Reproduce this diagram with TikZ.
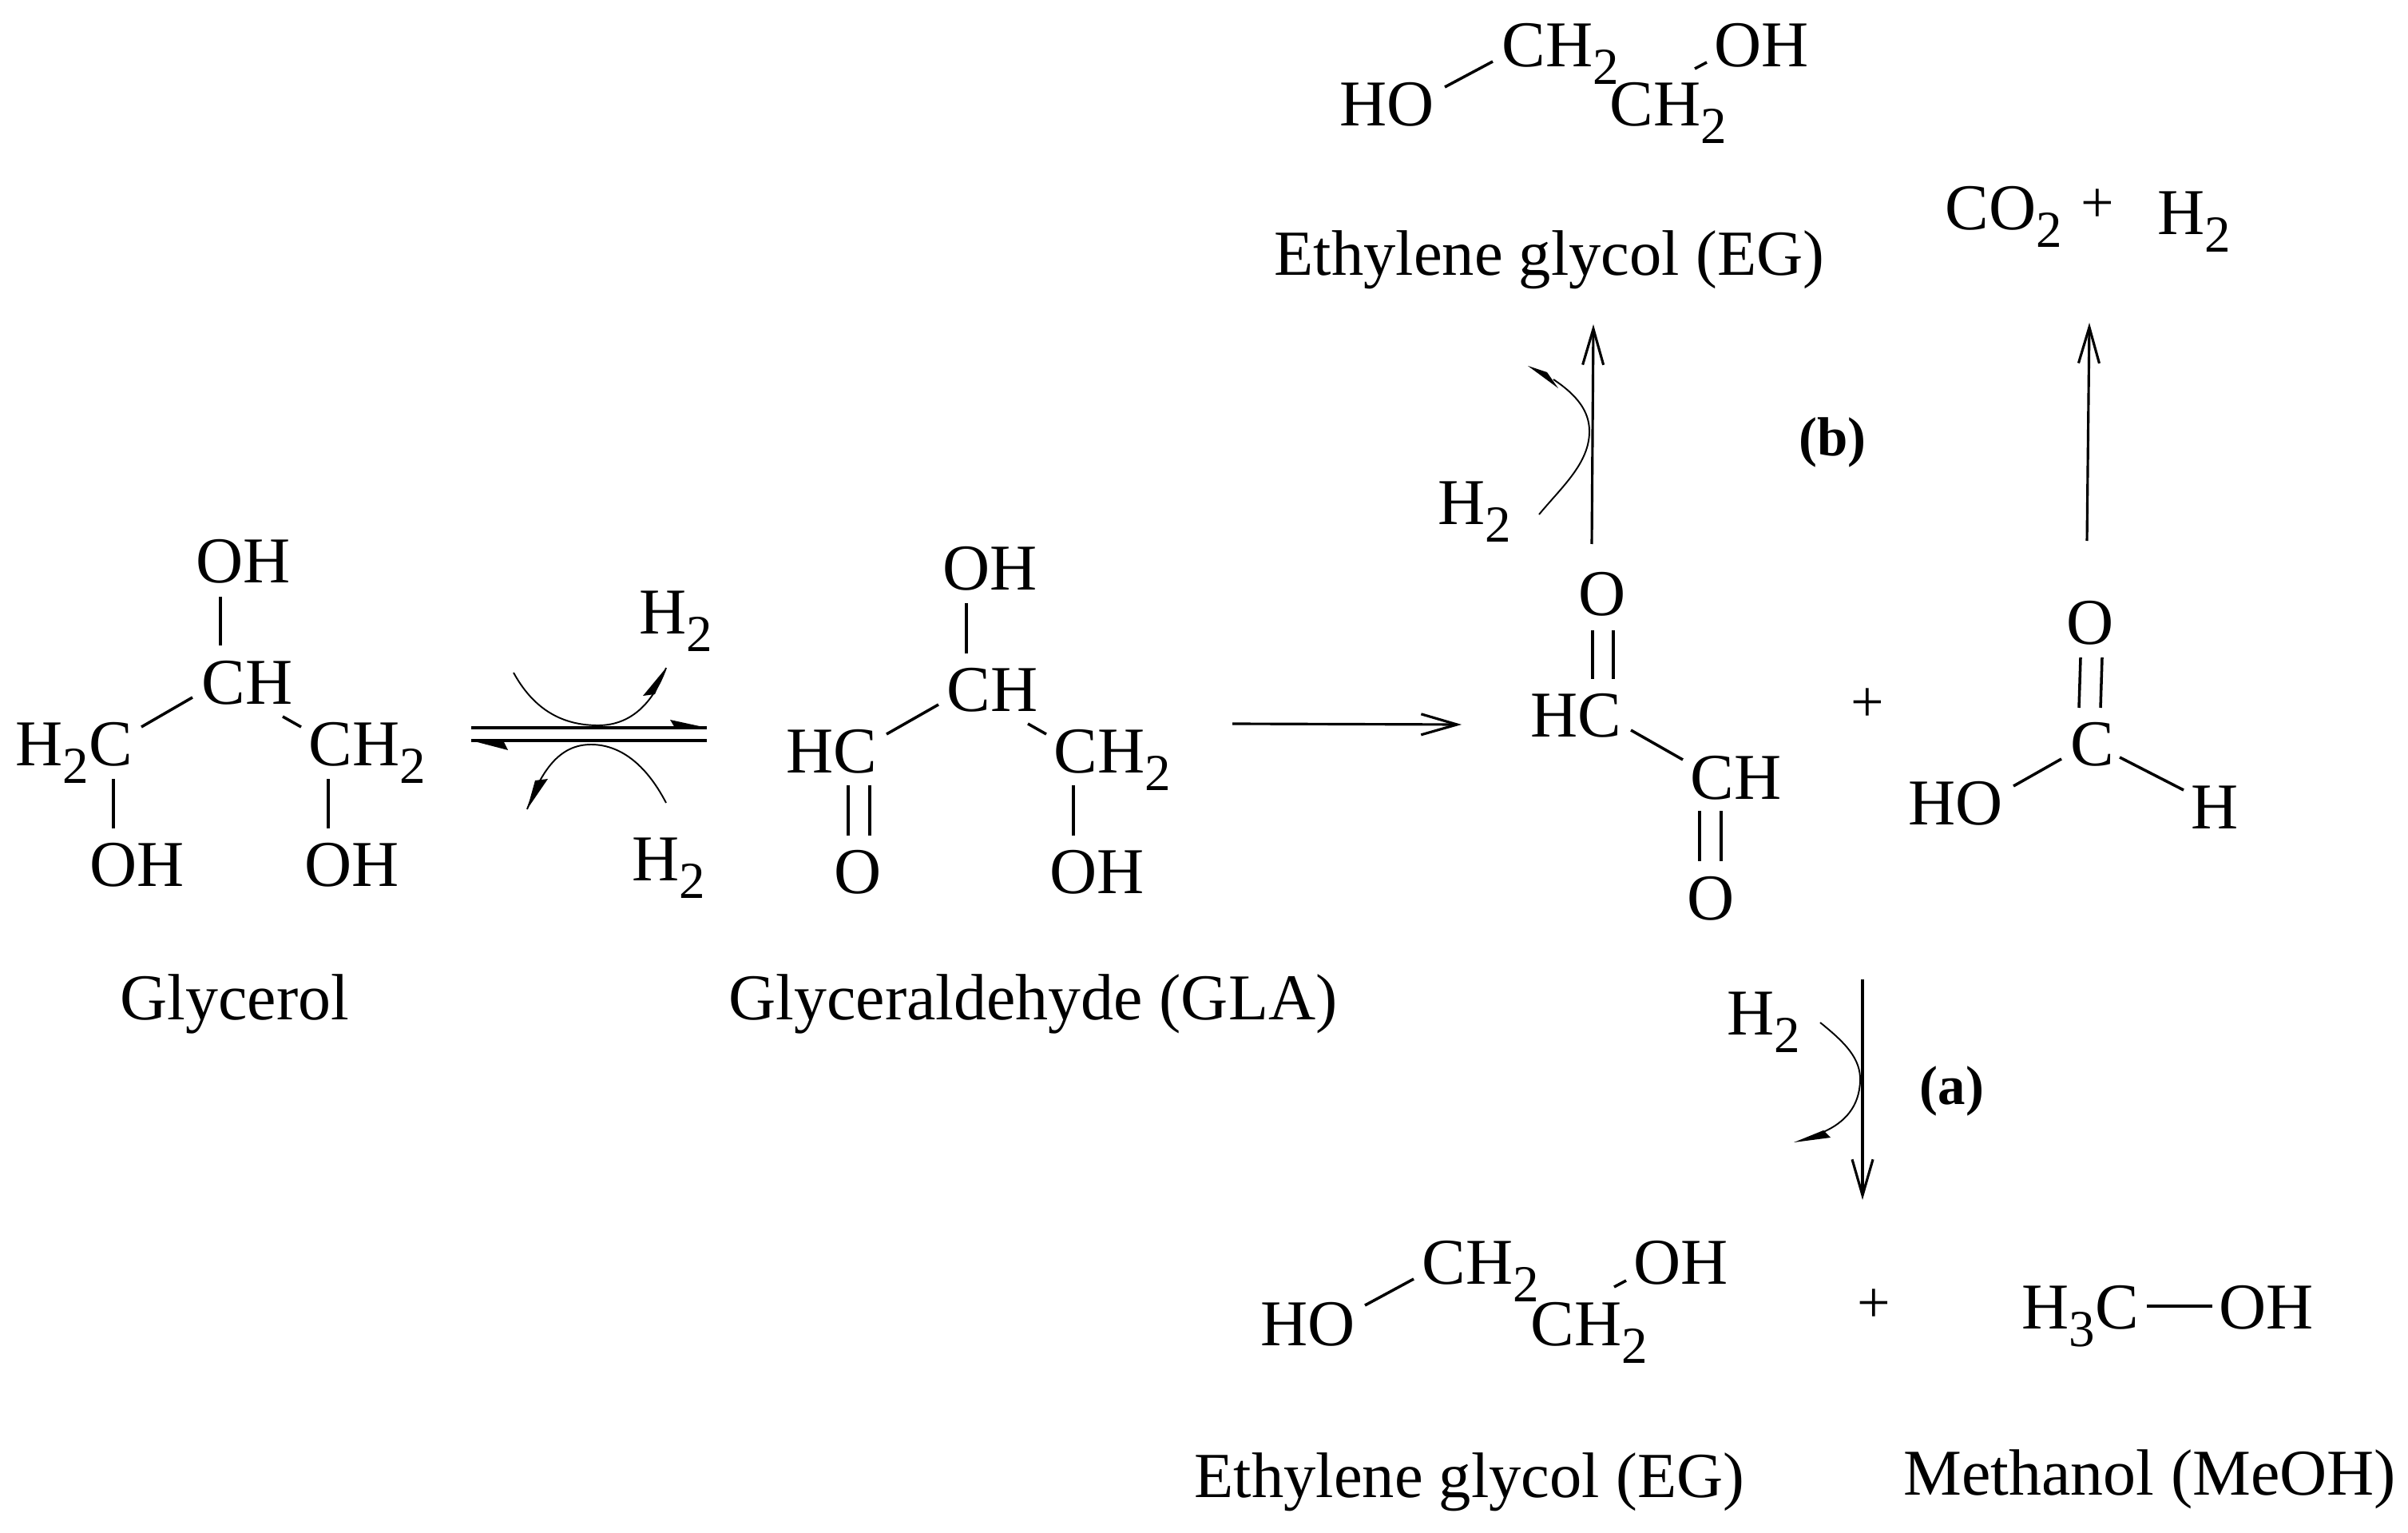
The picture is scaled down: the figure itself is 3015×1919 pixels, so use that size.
\documentclass[tikz,border=0pt]{standalone}
\usepackage{fontspec}
\usepackage{xcolor}
\setmainfont{Liberation Serif}
\usetikzlibrary{arrows.meta}
\newcommand{\subnum}[1]{\raisebox{-2.2mm}{\fontsize{18.5}{18.5}\selectfont #1}}
\tikzset{
  chem/.style={anchor=base west,inner sep=0pt,font=\fontsize{23.3}{28}\selectfont},
  eglabel/.style={anchor=base west,inner sep=0pt,font=\fontsize{22.9}{28}\selectfont},
  plussign/.style={anchor=base,inner sep=0pt,font=\fontsize{21}{25}\selectfont},
  tag/.style={anchor=base west,inner sep=0pt,font=\fontsize{19.6}{24}\selectfont\bfseries},
  bond/.style={line width=1pt},
  rxn/.style={line width=0.9pt,->,>={Straight Barb[length=4.5mm,width=2.6mm]}},
  eqline/.style={line width=1.1pt},
  thincurve/.style={line width=0.55pt},
  halfhead/.style={fill=black}
}
\begin{document}
\begin{tikzpicture}[x=0.1mm,y=-0.1mm]
\useasboundingbox (0,0) rectangle (3015,1919);

\node[chem] (oh1) at (245,730) {OH};
\node[chem] (ch1) at (252,881) {CH};
\node[chem] (hc1) at (19,958) {H\subnum{2}C};
\node[chem] (chb1) at (386,958) {CH\subnum{2}};
\node[chem] (oha) at (112,1109) {OH};
\node[chem] (ohb) at (381,1109) {OH};
\node[chem] (gly) at (150,1276) {Glycerol};
\draw[bond] ([shift={(31,17)}]oh1.base west) -- ([shift={(24,-73)}]ch1.base west);
\draw[bond] ([shift={(-11,-8)}]ch1.base west) -- ([shift={(158,-48)}]hc1.base west);
\draw[bond] ([shift={(102,16)}]ch1.base west) -- ([shift={(-9,-48)}]chb1.base west);
\draw[bond] ([shift={(123,17)}]hc1.base west) -- ([shift={(30,-72)}]oha.base west);
\draw[bond] ([shift={(25,17)}]chb1.base west) -- ([shift={(30,-72)}]ohb.base west);

\coordinate (eqa) at (590,911);
\coordinate (eqb) at (885,911);
\coordinate (eqc) at (885,927);
\coordinate (eqd) at (590,927);
\draw[eqline] (eqa) -- (eqb);
\draw[eqline] (eqc) -- (eqd);
\fill[halfhead] (eqb) -- (839,901) -- (845,911) -- cycle;
\fill[halfhead] (eqd) -- (636,939) -- (630,927) -- cycle;
\node[chem] (h2a) at (800,793) {H\subnum{2}};
\node[chem] (h2b) at (791,1102) {H\subnum{2}};
\coordinate (cua) at (643,842);
\coordinate (cub) at (834,836);
\coordinate (cuc) at (834,1005);
\coordinate (cud) at (660,1013);
\draw[thincurve] (cua) .. controls (672,895) and (712,908) .. (749,908) .. controls (790,908) and (818,880) .. (cub);
\draw[thincurve] (cuc) .. controls (808,955) and (775,932) .. (740,932) .. controls (700,932) and (678,965) .. (cud);
\fill[halfhead] (cub) -- (805,871) -- (820,869) -- cycle;
\fill[halfhead] (cud) -- (686,975) -- (670,977) -- cycle;

\node[chem] (oh2) at (1180,738) {OH};
\node[chem] (ch2) at (1185,890) {CH};
\node[chem] (hc2) at (984,967) {HC};
\node[chem] (chb2) at (1319,967) {CH\subnum{2}};
\node[chem] (o2) at (1044,1118) {O};
\node[chem] (oh3) at (1314,1118) {OH};
\node[chem] (gla) at (912,1276) {Glyceraldehyde (GLA)};
\draw[bond] ([shift={(30,17)}]oh2.base west) -- ([shift={(25,-72)}]ch2.base west);
\draw[bond] ([shift={(-10,-8)}]ch2.base west) -- ([shift={(126,-48)}]hc2.base west);
\draw[bond] ([shift={(102,16)}]ch2.base west) -- ([shift={(-9,-48)}]chb2.base west);
\draw[bond] ([shift={(78,16)}]hc2.base west) -- ([shift={(18,-72)}]o2.base west);
\draw[bond] ([shift={(105,16)}]hc2.base west) -- ([shift={(45,-72)}]o2.base west);
\draw[bond] ([shift={(25,16)}]chb2.base west) -- ([shift={(30,-72)}]oh3.base west);

\node[chem] (o3) at (1976,771) {O};
\node[chem] (hc3) at (1916,922) {HC};
\node[chem] (chg) at (2116,1000) {CH};
\node[chem] (o4) at (2112,1151) {O};
\draw[bond] ([shift={(18,18)}]o3.base west) -- ([shift={(78,-72)}]hc3.base west);
\draw[bond] ([shift={(44,18)}]o3.base west) -- ([shift={(104,-72)}]hc3.base west);
\draw[bond] ([shift={(126,-8)}]hc3.base west) -- ([shift={(-9,-49)}]chg.base west);
\draw[bond] ([shift={(12,15)}]chg.base west) -- ([shift={(16,-73)}]o4.base west);
\draw[bond] ([shift={(39,15)}]chg.base west) -- ([shift={(43,-73)}]o4.base west);
\draw[rxn] ([shift={(224,-61)}]chb2.base west) -- ([shift={(-86,-15)}]hc3.base west);
\node[plussign] (plusa) at (2338,903) {+};

\node[chem] (o5) at (2587,806) {O};
\node[chem] (c5) at (2592,958) {C};
\node[chem] (ho5) at (2389,1032) {HO};
\node[chem] (h5) at (2743,1037) {H};
\draw[bond] ([shift={(18,17)}]o5.base west) -- ([shift={(11,-72)}]c5.base west);
\draw[bond] ([shift={(45,17)}]o5.base west) -- ([shift={(38,-72)}]c5.base west);
\draw[bond] ([shift={(-11,-8)}]c5.base west) -- ([shift={(132,-48)}]ho5.base west);
\draw[bond] ([shift={(62,-10)}]c5.base west) -- ([shift={(-9,-48)}]h5.base west);

\node[chem] (ho6) at (1677,158) {HO};
\node[chem] (cha6) at (1880,84) {CH\subnum{2}};
\node[chem] (chb6) at (2015,158) {CH\subnum{2}};
\node[chem] (oh6) at (2146,84) {OH};
\node[eglabel] (eg1) at (1595,345) {Ethylene glycol (EG)};
\draw[bond] ([shift={(132,-49)}]ho6.base west) -- ([shift={(-11,-7)}]cha6.base west);
\draw[bond] ([shift={(107,-72)}]chb6.base west) -- ([shift={(-9,-6)}]oh6.base west);

\node[chem] (co2) at (2435,288) {CO\subnum{2}};
\node[plussign] (plusc) at (2626,279) {+};
\node[chem] (h2d) at (2701,294) {H\subnum{2}};
\draw[rxn] ([shift={(17,-90)}]o3.base west) -- ([shift={(400,61)}]eg1.base west);
\draw[rxn] ([shift={(26,-129)}]o5.base west) -- ([shift={(181,116)}]co2.base west);
\node[chem] (h2c) at (1800,657) {H\subnum{2}};
\node[tag] (tagb) at (2252,571) {(b)};
\coordinate (cue) at (1927,644);
\coordinate (cuf) at (1913,458);
\draw[thincurve] (cue) .. controls (1955,610) and (1990,580) .. (1990,540) .. controls (1990,515) and (1975,495) .. (1945,475);
\fill[halfhead] (cuf) -- (1951,486) -- (1937,466) -- cycle;

\node[chem] (ho7) at (1578,1684) {HO};
\node[chem] (cha7) at (1780,1607) {CH\subnum{2}};
\node[chem] (chb7) at (1916,1684) {CH\subnum{2}};
\node[chem] (oh7) at (2045,1607) {OH};
\node[eglabel] (eg2) at (1495,1874) {Ethylene glycol (EG)};
\draw[bond] ([shift={(131,-50)}]ho7.base west) -- ([shift={(-10,-6)}]cha7.base west);
\draw[bond] ([shift={(105,-73)}]chb7.base west) -- ([shift={(-9,-4)}]oh7.base west);

\node[plussign] (plusb) at (2346,1655) {+};
\node[chem] (h3c) at (2531,1663) {H\subnum{3}C};
\node[chem] (oh8) at (2778,1663) {OH};
\node[chem] (meoh) at (2383,1871) {Methanol (MeOH)};
\draw[bond] ([shift={(157,-28)}]h3c.base west) -- ([shift={(-8,-28)}]oh8.base west);

\draw[rxn] ([shift={(220,75)}]o4.base west) -- ([shift={(-14,-153)}]plusb.base);
\node[chem] (h2e) at (2162,1295) {H\subnum{2}};
\node[tag] (taga) at (2403,1382) {(a)};
\coordinate (cug) at (2279,1280);
\coordinate (cuh) at (2246,1430);
\draw[thincurve] (cug) .. controls (2310,1305) and (2330,1325) .. (2329,1353) .. controls (2328,1385) and (2310,1405) .. (2283,1417);
\fill[halfhead] (cuh) -- (2292,1424) -- (2283,1415) -- cycle;
\end{tikzpicture}
\end{document}
